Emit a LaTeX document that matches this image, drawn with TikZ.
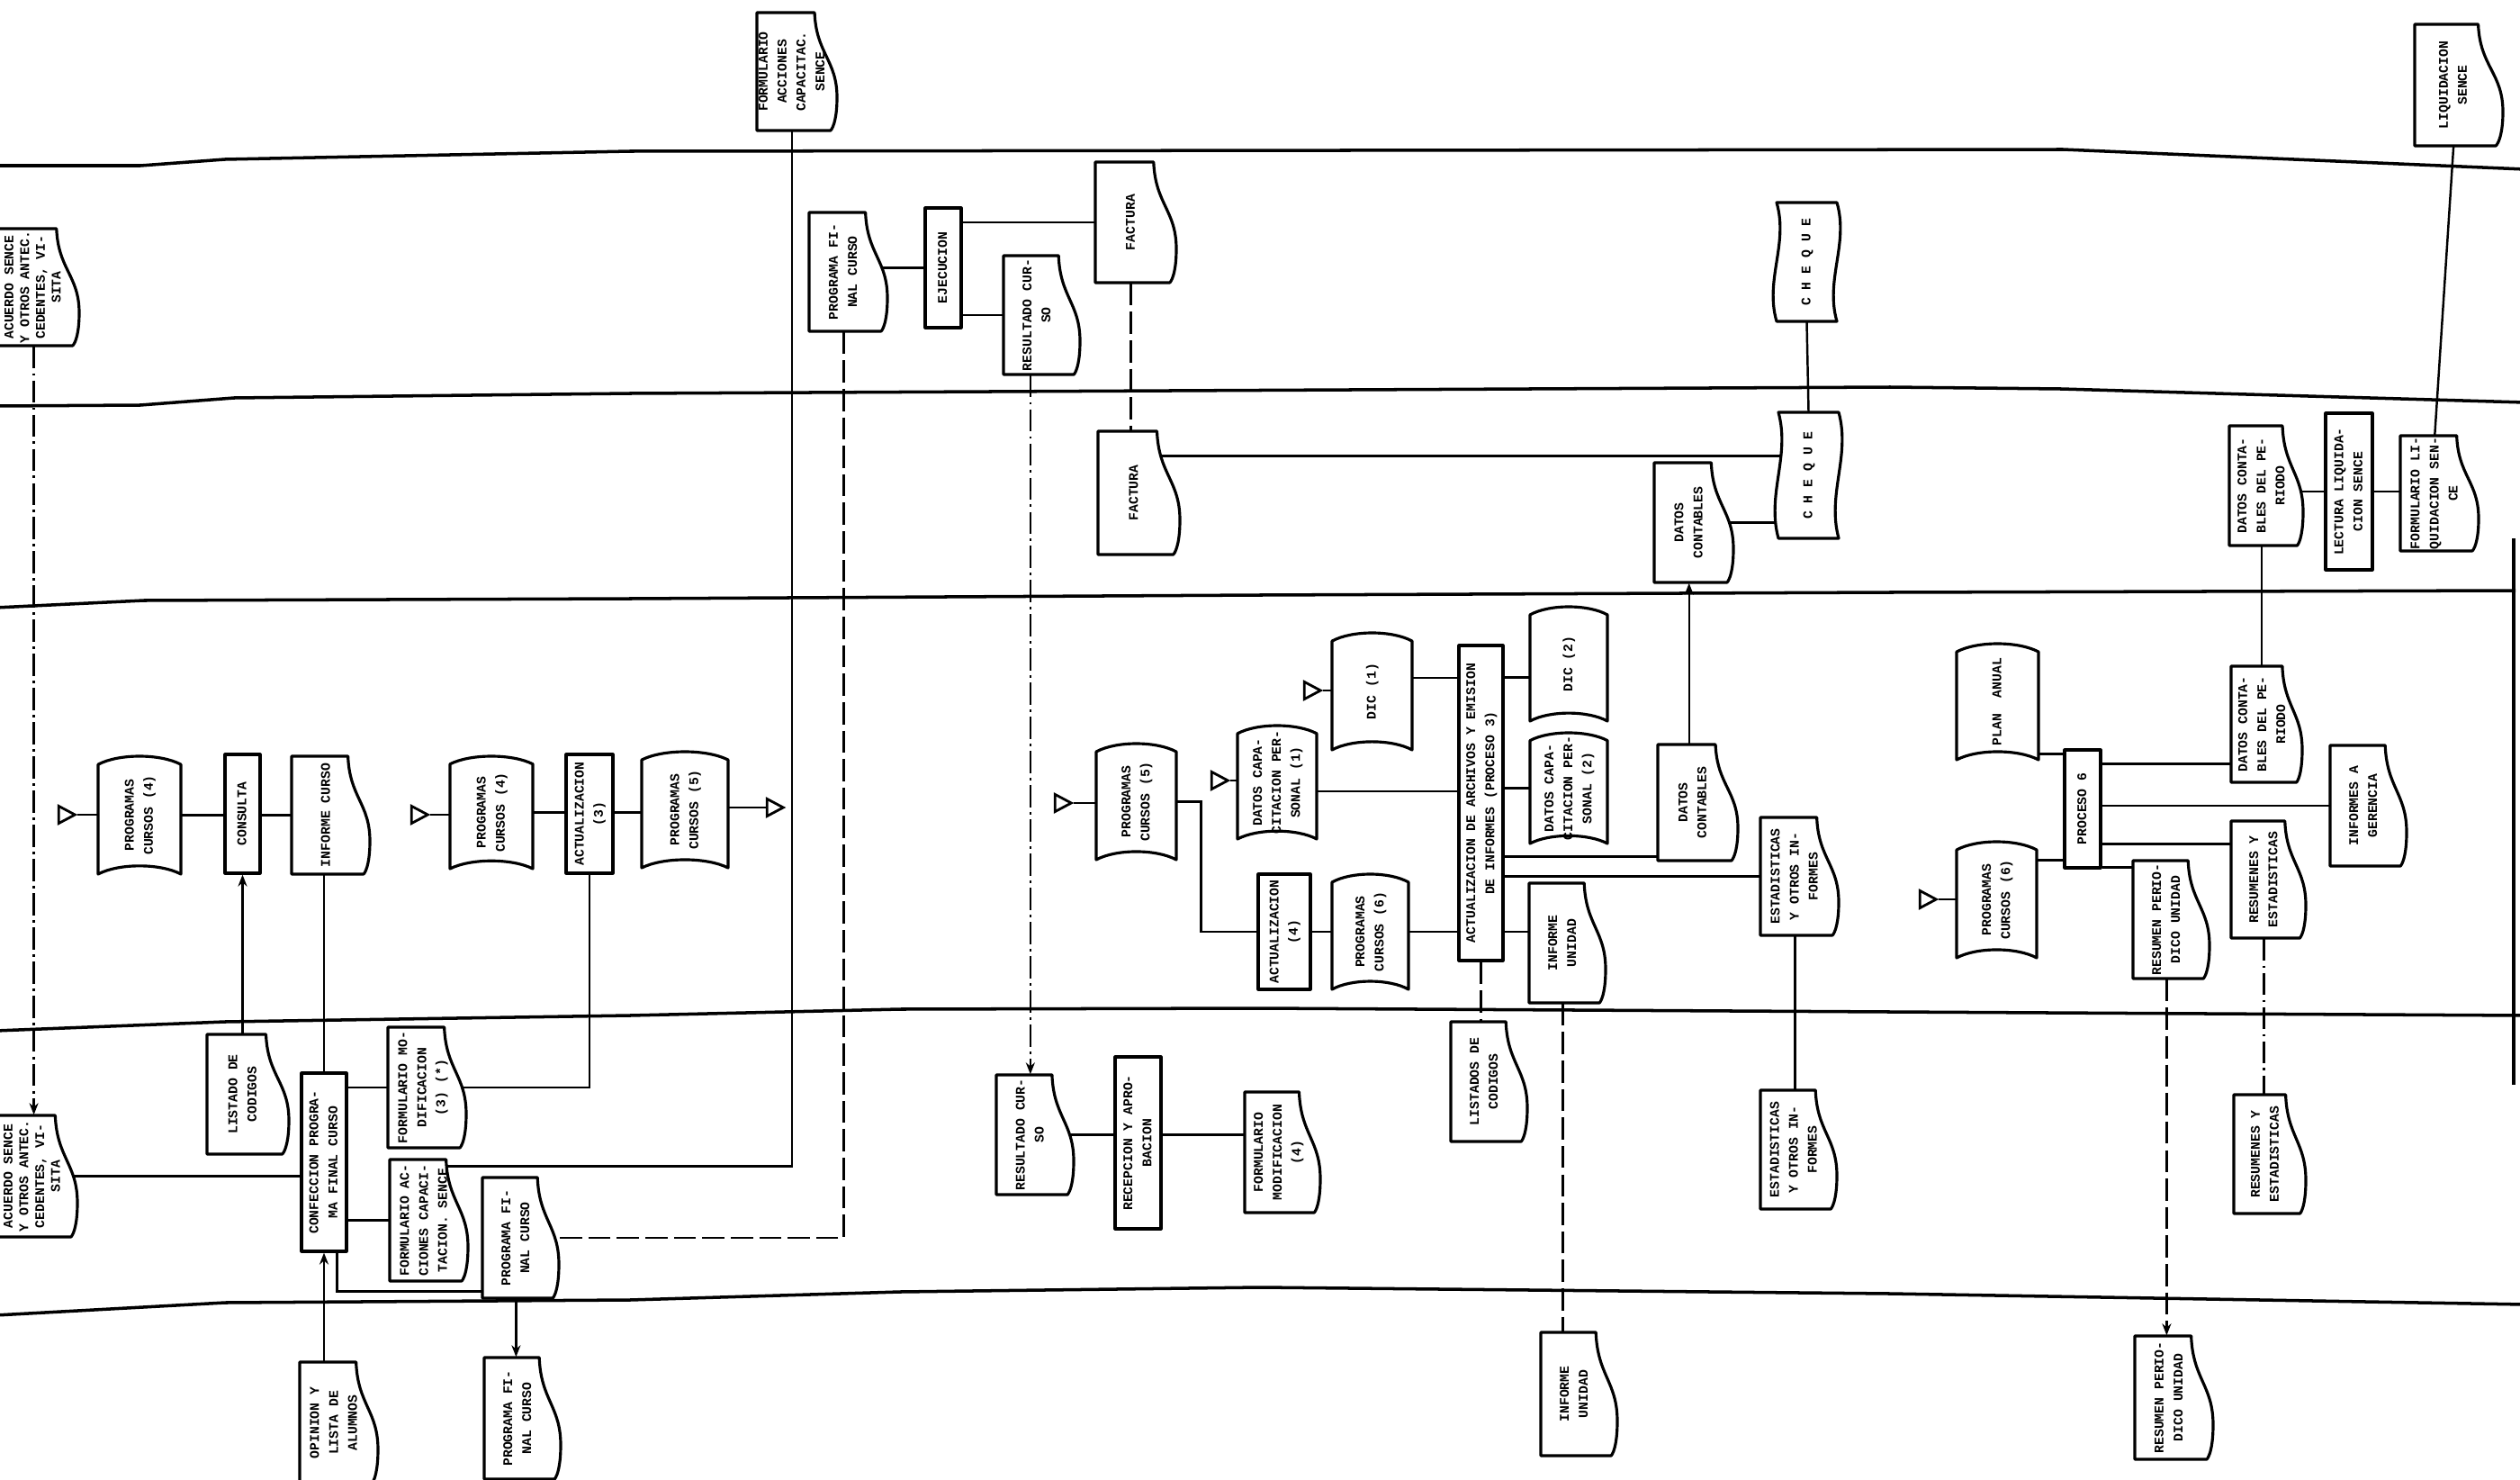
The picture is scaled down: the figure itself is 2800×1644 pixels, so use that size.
\documentclass[tikz,border=0pt]{standalone}
\usepackage{fontspec}
\usepackage{graphicx}
\usetikzlibrary{shapes.geometric, arrows.meta, backgrounds}
\newfontfamily\chartfont{Liberation Mono}

\tikzset{
  box text/.style={inner sep=0pt, font=\chartfont\bfseries\fontsize{4.2}{6}\selectfont},
  tightlines/.style={font=\chartfont\bfseries\fontsize{4.2}{5}\selectfont},
  shape line/.style={line width=0.9pt, fill=white, line join=round},
  flag/.style={isosceles triangle, isosceles triangle apex angle=56, draw, fill=white, line width=0.8pt, inner sep=0pt, minimum size=1.8mm},
  lane/.style={line width=1pt, line join=round},
  link/.style={line width=0.7pt},
  dashlink/.style={link, dash pattern=on 7pt off 2pt},
  dotlink/.style={link, dash pattern=on 7pt off 1.5pt on 0.8pt off 1.5pt},
  arrowin/.style={-{Stealth[length=1.3mm, width=1mm]}}
}

\newcommand{\vtext}[1]{\rotatebox{90}{\begin{tabular}{@{}c@{}}#1\end{tabular}}}

% [options], name, left, top, width, height, text
\newcommand{\docnode}[7][]{%
  \draw[shape line] (#3,#4) -- ({#3+0.72*#5},#4)
    .. controls ({#3+0.74*#5},{#4+0.35*#6}) and ({#3+#5},{#4+0.4*#6}) .. ({#3+#5},{#4+0.72*#6})
    .. controls ({#3+#5},{#4+0.88*#6}) and ({#3+0.96*#5},{#4+0.97*#6}) .. ({#3+0.92*#5},{#4+#6})
    -- (#3,{#4+#6}) -- cycle;
  \node[box text, minimum width=#5*0.088mm, minimum height=#6*0.1mm, #1] (#2) at ({#3+0.44*#5},{#4+#6/2}) {\vtext{#7}};
}
% name, left, top, width, height, text
\newcommand{\tapenode}[6]{%
  \draw[shape line] (#2,{#3+0.07*#5})
    .. controls ({#2+0.25*#4},{#3-0.0233*#5}) and ({#2+0.75*#4},{#3-0.0233*#5}) .. ({#2+#4},{#3+0.07*#5})
    -- ({#2+#4},{#3+#5})
    .. controls ({#2+0.75*#4},{#3+0.9067*#5}) and ({#2+0.25*#4},{#3+0.9067*#5}) .. (#2,{#3+#5}) -- cycle;
  \node[box text, minimum width=#4*0.1mm, minimum height=#5*0.1mm] (#1) at ({#2+#4/2},{#3+#5/2}) {\vtext{#6}};
}
\newcommand{\chequenode}[6]{%
  \draw[shape line] (#2,#3) -- ({#2+#4},#3)
    .. controls ({#2+1.2*#4},{#3+0.35*#5}) and ({#2+0.8*#4},{#3+0.65*#5}) .. ({#2+#4},{#3+#5})
    -- (#2,{#3+#5})
    .. controls ({#2-0.2*#4},{#3+0.65*#5}) and ({#2+0.2*#4},{#3+0.35*#5}) .. (#2,#3) -- cycle;
  \node[box text, minimum width=#4*0.1mm, minimum height=#5*0.1mm] (#1) at ({#2+#4/2},{#3+#5/2}) {\vtext{#6}};
}
\newcommand{\procnode}[6]{%
  \node[box text, draw, shape line, minimum width=#4*0.1mm, minimum height=#5*0.1mm] (#1) at ({#2+#4/2},{#3+#5/2}) {\vtext{#6}};
}

\begin{document}
\begin{tikzpicture}[x=0.1mm, y=-0.1mm]
  \useasboundingbox (0,0) rectangle (2800,1644);

  % top strip
  \docnode{formtop}{841}{14}{89}{131}{FORMULARIO\\ACCIONES\\CAPACITAC.\\SENCE}
  \docnode{liqtop}{2683}{27}{98}{135}{LIQUIDACION\\SENCE}

  % second strip
  \docnode[tightlines]{acuerdotop}{-2}{254}{90}{130}{ACUERDO SENCE\\Y OTROS ANTEC.\\CEDENTES, VI-\\SITA}
  \docnode{pfctop}{899}{236}{87}{132}{PROGRAMA FI-\\NAL CURSO}
  \procnode{ejec}{1028}{231}{40}{133}{EJECUCION}
  \docnode{restop}{1115}{284}{85}{132}{RESULTADO CUR-\\SO}
  \docnode{facttop}{1217}{180}{90}{134}{FACTURA}
  \chequenode{chqtop}{1974}{225}{67}{132}{C H E Q U E}

  % third strip
  \docnode{factmid}{1220}{479}{91}{137}{FACTURA}
  \chequenode{chqmid}{1976}{458}{67}{140}{C H E Q U E}
  \docnode{datcont3}{1838}{514}{88}{133}{DATOS\\CONTABLES}
  \docnode{dcdp3}{2477}{473}{82}{133}{DATOS CONTA-\\BLES DEL PE-\\RIODO}
  \procnode{lectura}{2584}{459}{52}{174}{LECTURA LIQUIDA-\\CION SENCE}
  \docnode{formliq}{2667}{484}{87}{128}{FORMULARIO LI-\\QUIDACION SEN-\\CE}

  % processing strip
  \node[flag] (t1) at (71,905) {};
  \tapenode{pc4a}{109}{840}{92}{131}{PROGRAMAS\\CURSOS (4)}
  \procnode{consulta}{250}{838}{39}{132}{CONSULTA}
  \docnode{infcurso}{324}{840}{87}{131}{INFORME CURSO}
  \node[flag] (t2) at (463,905) {};
  \tapenode{pc4b}{500}{840}{92}{125}{PROGRAMAS\\CURSOS (4)}
  \procnode{act3}{629}{838}{52}{132}{ACTUALIZACION\\(3)}
  \tapenode{pc5a}{713}{835}{96}{129}{PROGRAMAS\\CURSOS (5)}
  \node[flag] (t3) at (858,897) {};
  \node[flag] (t4) at (1178,892) {};
  \tapenode{pc5b}{1218}{826}{89}{129}{PROGRAMAS\\CURSOS (5)}
  \node[flag] (t5) at (1352,867) {};
  \tapenode{dcp1}{1375}{806}{88}{126}{DATOS CAPA-\\CITACION PER-\\SONAL (1)}
  \node[flag] (t6) at (1455,767) {};
  \tapenode{dic1}{1480}{703}{89}{130}{DIC (1)}
  \procnode{proc3}{1621}{717}{49}{350}{ACTUALIZACION DE ARCHIVOS Y EMISION\\DE INFORMES (PROCESO 3)}
  \tapenode{dic2}{1700}{674}{86}{127}{DIC (2)}
  \tapenode{dcp2}{1700}{814}{86}{123}{DATOS CAPA-\\CITACION PER-\\SONAL (2)}
  \docnode{datcont4}{1842}{827}{89}{129}{DATOS\\CONTABLES}
  \docnode{estad4}{1956}{908}{87}{131}{ESTADISTICAS\\Y OTROS IN-\\FORMES}
  \procnode{act4}{1398}{971}{58}{128}{ACTUALIZACION\\(4)}
  \tapenode{pc6a}{1480}{971}{85}{128}{PROGRAMAS\\CURSOS (6)}
  \docnode{infunid4}{1699}{981}{85}{133}{INFORME\\UNIDAD}
  \tapenode{planan}{2174}{715}{91}{129}{PLAN~~ANUAL}
  \procnode{proc6}{2294}{833}{40}{131}{PROCESO 6}
  \node[flag] (t7) at (2139,999) {};
  \tapenode{pc6b}{2174}{935}{89}{129}{PROGRAMAS\\CURSOS (6)}
  \docnode{dcdp4}{2479}{740}{79}{129}{DATOS CONTA-\\BLES DEL PE-\\RIODO}
  \docnode{infger}{2589}{828}{85}{134}{INFORMES A\\GERENCIA}
  \docnode{resest4}{2479}{912}{83}{130}{RESUMENES Y\\ESTADISTICAS}
  \docnode{rpu4}{2370}{956}{85}{131}{RESUMEN PERIO-\\DICO UNIDAD}

  % fifth strip
  \docnode[tightlines]{acuerdobot}{-2}{1239}{88}{135}{ACUERDO SENCE\\Y OTROS ANTEC.\\CEDENTES, VI-\\SITA}
  \docnode{listcod}{230}{1149}{91}{133}{LISTADO DE\\CODIGOS}
  \procnode{confec}{335}{1192}{50}{198}{CONFECCION PROGRA-\\MA FINAL CURSO}
  \docnode{formmod3}{431}{1141}{87}{134}{FORMULARIO MO-\\DIFICACION\\(3) (*)}
  \docnode{formacc}{433}{1288}{87}{135}{FORMULARIO AC-\\CIONES CAPACI-\\TACION. SENCE}
  \docnode{pfc5}{536}{1308}{85}{134}{PROGRAMA FI-\\NAL CURSO}
  \docnode{res5}{1107}{1194}{86}{133}{RESULTADO CUR-\\SO}
  \procnode{recep}{1239}{1174}{51}{191}{RECEPCION Y APRO-\\BACION}
  \docnode{formmod4}{1383}{1213}{84}{134}{FORMULARIO\\MODIFICACION\\(4)}
  \docnode{listados}{1612}{1135}{85}{133}{LISTADOS DE\\CODIGOS}
  \docnode{estad5}{1956}{1211}{85}{132}{ESTADISTICAS\\Y OTROS IN-\\FORMES}
  \docnode{resest5}{2482}{1216}{80}{132}{RESUMENES Y\\ESTADISTICAS}

  % bottom strip
  \docnode{opinion}{333}{1513}{87}{135}{OPINION Y\\LISTA DE\\ALUMNOS}
  \docnode{pfcbot}{538}{1508}{85}{135}{PROGRAMA FI-\\NAL CURSO}
  \docnode{infunidbot}{1712}{1480}{85}{137}{INFORME\\UNIDAD}
  \docnode{rpubot}{2372}{1484}{87}{137}{RESUMEN PERIO-\\DICO UNIDAD}

  \begin{scope}[on background layer]
    % Lane lines
    \draw[lane] (-5,184) -- (156,184) -- (250,177) -- (700,168) -- (2292,166) -- (2805,188);
    \draw[lane] (-5,451) -- (156,450) -- (260,442) -- (700,437) -- (2100,430) -- (2290,432) -- (2805,447);
    \draw[lane] (-5,675) -- (160,667) -- (700,665) -- (1400,661) -- (2100,658) -- (2795,656);
    \draw[lane] (-5,1145) -- (250,1135) -- (700,1128) -- (1000,1121) -- (1400,1120) -- (2100,1124) -- (2805,1128);
    \draw[lane] (-5,1461) -- (250,1447) -- (700,1444) -- (1000,1435) -- (1400,1430) -- (2100,1437) -- (2805,1449);
    \draw[lane] (2793,598) -- (2793,1205);

    % Connectors, upper strips
    \draw[dotlink, arrowin] (acuerdotop.south) -- (acuerdotop.south |- acuerdobot.north);
    \draw[link] (ejec) -- (ejec -| pfctop);
    \draw[link] (facttop) -- (facttop -| ejec);
    \draw[link] (restop) -- (restop -| ejec);
    \draw[dotlink, arrowin] (res5.north |- restop.south) -- (res5.north);
    \draw[dashlink] (facttop.south) -- (facttop.south |- factmid.north);
    \draw[link] (chqtop.south) -- (chqmid.north);
    \draw[link] (formtop.south) |- ([yshift=-0.8mm]formacc.north);
    \draw[dashlink] (pfctop.south) |- (pfc5);
    \draw[link] (liqtop.south) -- (formliq.north);
    \draw[link] ([yshift=-2.8mm]factmid.north) -- ([yshift=-2.8mm]factmid.north -| chqmid);
    \draw[link] (datcont3) -- (datcont3 -| chqmid);
    \draw[link, arrowin] (datcont3.south |- datcont4.north) -- (datcont3.south);
    \draw[link] (lectura) -- (lectura -| dcdp3);
    \draw[link] (lectura) -- (lectura -| formliq);
    \draw[link] (dcdp3.south |- dcdp4.north) -- (dcdp3.south);

    % Connectors, processing strip
    \draw[link] (t1.apex) -- (t1.apex -| pc4a);
    \draw[link] (pc4a) -- (infcurso);
    \draw[link] (t2.apex) -- (t2.apex -| pc4b);
    \draw[link] (pc4b) -- (pc4b -| pc5a);
    \draw[link] (pc5a.east |- t3) -- (t3.west);
    \draw[link] (confec.north |- infcurso.south) -- (confec.north);
    \draw[link, arrowin] (consulta.south |- listcod.north) -- (consulta.south);
    \draw[link] (act3.south) |- (formmod3);
    \draw[link] (t4.apex) -- (t4.apex -| pc5b);
    \draw[link] (pc5b.east) -- ++(27,0) |- (act4);
    \draw[link] (t5.apex) -- (t5.apex -| dcp1);
    \draw[link] (t6.apex) -- (t6.apex -| dic1);
    \draw[link] ([yshift=1.5mm]dic1.center) -- ([yshift=1.5mm]dic1.center -| proc3);
    \draw[link] ([yshift=-1mm]dcp1.center) -- ([yshift=-1mm]dcp1.center -| proc3);
    \draw[link] ([yshift=-1.5mm]dic2.center) -- ([yshift=-1.5mm]dic2.center -| proc3);
    \draw[link] (dcp2) -- (dcp2 -| proc3);
    \draw[link] ([yshift=0.5mm]datcont4.south west) -- ([yshift=0.5mm]datcont4.south west -| proc3);
    \draw[link] (estad4) -- (estad4 -| proc3);
    \draw[link] (act4) -- (act4 -| infunid4);
    \draw[dashlink] (proc3.south) -- (proc3.south |- listados.north);
    \draw[link] (estad4.south) -- (estad4.south |- estad5.north);
    \draw[dashlink] (infunid4.south) -- (infunid4.south |- infunidbot.north);
    \draw[link] ([yshift=0.7mm]planan.south east) -- ([yshift=0.7mm]planan.south east -| proc6);
    \draw[link] ([yshift=1mm]proc6.south west) -- ([yshift=1mm]proc6.south west -| pc6b);
    \draw[link] (t7.apex) -- (t7.apex -| pc6b);
    \draw[link] ([yshift=-1.7mm]proc6.north east) -- ([yshift=-1.7mm]proc6.north east -| dcdp4);
    \draw[link] (infger) -- (infger -| proc6);
    \draw[link] ([yshift=2.8mm]proc6.south east) -- ([yshift=2.8mm]proc6.south east -| resest4);
    \draw[link] ([yshift=0.2mm]proc6.south east) -- ([yshift=0.2mm]proc6.south east -| rpu4);
    \draw[dotlink] (resest4.south) -- (resest4.south |- resest5.north);
    \draw[dashlink, arrowin] (rpu4.south) -- (rpu4.south |- rpubot.north);

    % Connectors, lower strips
    \draw[link] (acuerdobot) -- (acuerdobot -| confec);
    \draw[link] (formmod3) -- (formmod3 -| confec);
    \draw[link] (formacc) -- (formacc -| confec);
    \draw[link] ([xshift=-1.2mm]confec.south east) |- ([yshift=0.8mm]pfc5.south west);
    \draw[link, arrowin] (confec.south |- opinion.north) -- (confec.south);
    \draw[link, arrowin] (pfc5.south) -- (pfc5.south |- pfcbot.north);
    \draw[link] (res5) -- (res5 -| formmod4);
  \end{scope}
\end{tikzpicture}
\end{document}
